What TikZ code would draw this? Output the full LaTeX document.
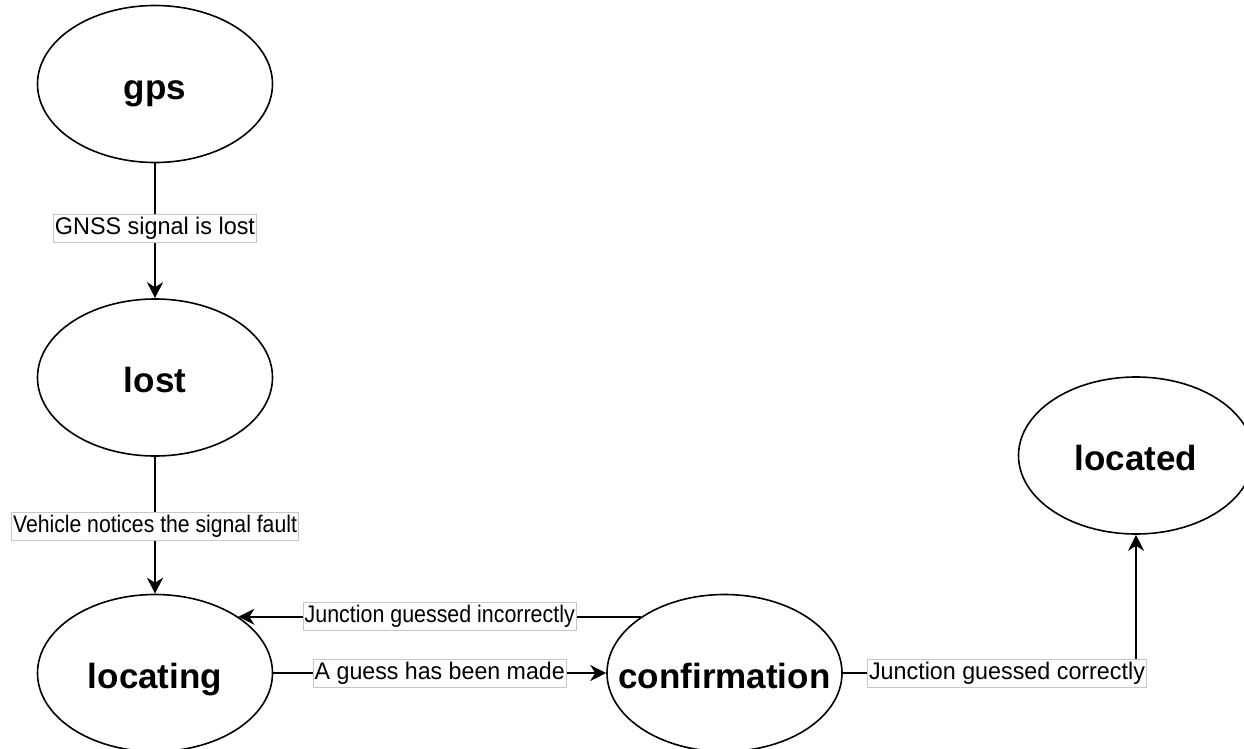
\documentclass[tikz,border=0pt]{standalone}
\usepackage{fontspec}
\setmainfont{Liberation Sans}
\usetikzlibrary{shapes.geometric,arrows.meta}
\newcommand{\statetext}[1]{\raisebox{-6.5pt}{\makebox[0pt][c]{#1}}}
\tikzset{
  state/.style={ellipse, draw=black, line width=1.6pt, minimum width=235pt, minimum height=157pt, inner sep=0pt,
    font=\fontsize{35}{40}\selectfont\bfseries, text height=24pt, text depth=7pt},
  lab/.style={fill=white, draw=black!22, line width=0.6pt, font=\fontsize{24}{28}\selectfont,
    inner xsep=1.5pt, inner ysep=3pt, text height=17pt, text depth=5pt},
  conn/.style={line width=1.6pt},
  arr/.style={conn, -{Stealth[length=16pt,width=16pt,inset=5pt]}}
}
\begin{document}
\begin{tikzpicture}[x=1pt,y=-1pt]
\useasboundingbox (0,0) rectangle (1244,749);
\node[state] (gps) at (155,84) {\statetext{gps}};
\node[state] (lost) at (155,377.5) {\statetext{lost}};
\node[state] (loc) at (155,673) {\statetext{locating}};
\node[state] (conf) at (724.5,673) {\statetext{confirmation}};
\node[state] (located) at (1136,455.5) {\statetext{located}};

\draw[arr] (gps) -- node[lab, pos=0.48] {\scalebox{0.974}[1]{GNSS signal is lost}} (lost);
\draw[arr] (lost) -- node[lab, pos=0.51] {\scalebox{0.883}[1]{Vehicle notices the signal fault}} (loc);
\draw[arr] (loc) -- node[lab] {\scalebox{0.966}[1]{A guess has been made}} (conf);
\draw[arr] (conf.146) -- node[lab] {\scalebox{0.892}[1]{Junction guessed incorrectly}} (loc.34);
\draw[arr] (conf.east) -| node[lab, pos=0.28] {\scalebox{0.971}[1]{Junction guessed correctly}} (located.south);
\end{tikzpicture}
\end{document}
